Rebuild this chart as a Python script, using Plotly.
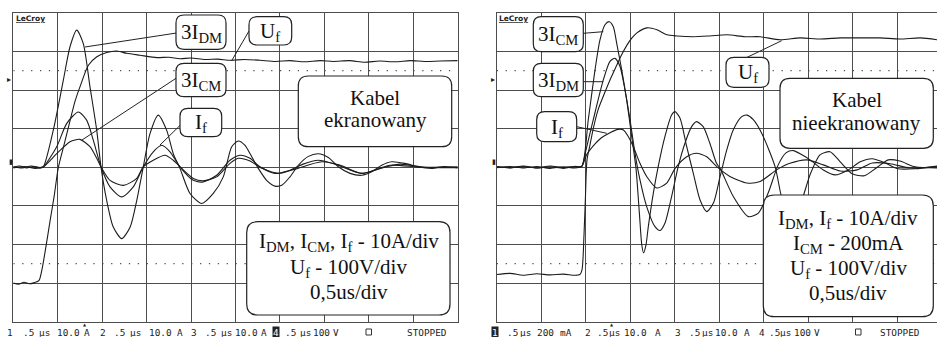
import plotly.graph_objects as go

W, H = 937, 337

# ---------------- data (time in divisions of 0.5 us, amplitude in divisions) ----------------
# Left screen: "Kabel ekranowany"
L_uf_t = [0, 0.12, 0.24, 0.36, 0.48, 0.58, 0.65, 0.74, 0.83, 0.92, 1.01, 1.14, 1.28, 1.39, 1.50, 1.69, 1.88,
          2.10, 2.33, 2.55, 2.85, 3.23, 3.50, 3.75, 4.0, 4.31, 4.6, 4.88, 5.2, 5.55, 5.9, 6.23, 6.55, 6.90,
          7.2, 7.57, 7.9, 8.24, 8.6, 8.93, 9.25, 9.60, 10]
L_uf_y = [-3.0, -3.03, -2.98, -3.02, -2.99, -2.93, -2.62, -2.02, -1.37, -0.75, -0.03, 0.57, 1.22, 1.71, 2.08,
          2.64, 2.86, 2.97, 3.01, 2.95, 2.90, 2.84, 2.85, 2.81, 2.83, 2.79, 2.80, 2.77, 2.79, 2.77, 2.74, 2.76,
          2.73, 2.76, 2.74, 2.76, 2.72, 2.75, 2.73, 2.76, 2.74, 2.75, 2.76]

L_dm_t = [0, 0.15, 0.3, 0.45, 0.6, 0.675, 0.90, 1.125, 1.276, 1.427, 1.575, 1.726, 1.877, 1.973, 2.10, 2.25,
          2.44, 2.63, 2.78, 2.925, 3.076, 3.263, 3.45, 3.60, 3.75, 3.976, 4.24, 4.50, 4.725, 4.915, 5.063,
          5.21, 5.365, 5.513, 5.70, 5.89, 6.04, 6.226, 6.413, 6.64, 6.863, 7.09, 7.313, 7.576, 7.84, 8.065,
          8.29, 8.515, 8.81, 9.11, 9.415, 9.7, 10]
L_dm_y = [0.0, 0.03, -0.02, 0.02, -0.02, 0.01, 0.96, 2.25, 3.12, 3.55, 3.20, 2.08, 0.96, 0.01, -0.85, -1.55,
          -1.85, -1.55, -0.85, 0.01, 0.87, 1.35, 0.96, 0.35, -0.03, -0.68, -0.94, -0.68, -0.25, 0.53, 0.68,
          0.57, 0.27, -0.03, -0.34, -0.49, -0.47, -0.25, 0.05, 0.28, 0.35, 0.25, 0.01, -0.16, -0.21, -0.12,
          0.05, 0.14, 0.10, 0.01, -0.03, 0.02, -0.02]

L_cm_t = [0, 0.2, 0.4, 0.6, 0.675, 0.977, 1.20, 1.463, 1.65, 1.80, 1.973, 2.176, 2.44, 2.70, 2.925, 3.15,
          3.34, 3.526, 3.75, 4.05, 4.275, 4.577, 4.876, 5.10, 5.326, 5.55, 5.89, 6.226, 6.52, 6.863, 7.24,
          7.84, 8.36, 8.70, 9.26, 10]
L_cm_y = [0.02, -0.02, 0.03, -0.01, 0.01, 0.53, 1.13, 1.43, 1.22, 0.70, 0.01, -0.51, -0.77, -0.51, 0.01, 0.40,
          0.57, 0.40, 0.01, -0.34, -0.38, -0.21, 0.18, 0.31, 0.23, 0.01, -0.16, -0.08, 0.08, 0.18, 0.08,
          -0.16, 0.0, 0.08, 0.0, -0.01]

L_if_t = [0, 0.25, 0.5, 0.675, 0.977, 1.276, 1.50, 1.726, 1.877, 1.973, 2.176, 2.48, 2.777, 2.925, 3.15,
          3.413, 3.60, 3.79, 4.05, 4.275, 4.577, 4.876, 5.063, 5.326, 5.60, 5.97, 6.34, 6.94, 7.36, 7.84,
          8.48, 9.15, 10]
L_if_y = [-0.02, 0.02, -0.03, 0.01, 0.35, 0.66, 0.72, 0.53, 0.23, 0.01, -0.34, -0.47, -0.29, 0.01, 0.18,
          0.31, 0.18, -0.03, -0.29, -0.35, -0.25, 0.10, 0.23, 0.16, -0.03, -0.16, -0.05, 0.14, 0.05, -0.16,
          0.05, 0.0, 0.01]

# Right screen: "Kabel nieekranowany"
R_uf_t = [0, 0.3, 0.6, 0.9, 1.2, 1.5, 1.75, 1.87, 1.917, 1.962, 1.996, 2.029, 2.097, 2.164, 2.276, 2.389,
          2.546, 2.681, 2.793, 2.93, 3.04, 3.15, 3.378, 3.60, 3.825, 4.05, 4.41, 4.79, 5.175, 5.58, 5.92,
          6.37, 6.82, 7.27, 7.72, 8.17, 8.62, 9.06, 9.52, 9.9]
R_uf_y = [-2.78, -2.75, -2.80, -2.76, -2.79, -2.77, -2.80, -2.78, -2.66, -1.75, -0.72, 0.19, 0.58, 0.97, 1.48,
          1.82, 2.26, 2.60, 2.88, 3.17, 3.35, 3.48, 3.61, 3.56, 3.43, 3.40, 3.38, 3.40, 3.43, 3.38, 3.38,
          3.30, 3.35, 3.32, 3.35, 3.35, 3.35, 3.32, 3.35, 3.30]

R_cm_t = [0, 0.3, 0.6, 0.9, 1.2, 1.5, 1.75, 1.91, 2.058, 2.209, 2.321, 2.434, 2.53, 2.62, 2.697, 2.809,
          2.921, 3.034, 3.13, 3.206, 3.26, 3.30, 3.355, 3.407, 3.52, 3.63, 3.78, 3.93, 4.006, 4.12, 4.27,
          4.418, 4.57, 4.72, 4.87, 5.02, 5.17, 5.317, 5.506, 5.625, 5.766, 5.955, 6.254, 6.44, 6.636,
          6.816, 7.04, 7.265, 7.49, 7.72, 7.99, 8.26, 8.53, 8.80, 9.06, 9.40, 9.9]
R_cm_y = [0.01, -0.02, 0.02, -0.02, 0.03, -0.01, 0.02, 0.02, 1.23, 2.52, 3.30, 3.69, 3.77, 3.64, 3.21, 2.52,
          1.74, 0.79, -0.03, -1.19, -2.01, -2.22, -2.01, -1.54, -0.67, 0.02, 0.79, 1.35, 1.44, 1.27, 0.53,
          -0.16, -0.85, -1.15, -0.93, -0.24, 0.45, 0.97, 1.31, 1.35, 1.23, 0.88, 0.02, -0.93, -1.24,
          -0.98, -0.20, 0.32, 0.40, 0.14, -0.17, -0.22, -0.02, 0.19, 0.16, 0.01, -0.02]

R_dm_t = [0, 0.3, 0.6, 0.9, 1.2, 1.5, 1.75, 1.91, 2.007, 2.17, 2.396, 2.546, 2.658, 2.771, 2.883, 2.996,
          3.108, 3.22, 3.37, 3.557, 3.67, 3.78, 3.93, 4.08, 4.23, 4.38, 4.49, 4.64, 4.79, 4.94, 5.02,
          5.317, 5.654, 5.88, 6.10, 6.326, 6.50, 6.665, 6.86, 7.04, 7.34, 7.607, 7.90, 8.17, 8.44, 8.73,
          9.02, 9.40, 9.9]
R_dm_y = [-0.01, 0.02, -0.02, 0.02, -0.03, 0.01, -0.02, 0.02, 0.45, 1.23, 2.26, 2.74, 2.82, 2.61, 2.00, 1.23,
          0.36, -0.33, -1.02, -1.54, -1.64, -1.45, -0.76, 0.02, 0.62, 1.05, 1.18, 1.05, 0.62, 0.10, -0.03,
          -0.76, -1.28, -1.19, -0.67, 0.06, 0.37, 0.43, 0.32, 0.19, -0.07, -0.20, -0.07, 0.14, 0.22, 0.11,
          -0.04, -0.04, 0.03]

R_if_t = [0, 0.3, 0.6, 0.9, 1.2, 1.5, 1.75, 1.91, 2.02, 2.17, 2.32, 2.546, 2.726, 2.84, 2.95, 3.07, 3.22,
          3.37, 3.60, 3.82, 4.01, 4.27, 4.49, 4.72, 4.94, 5.24, 5.62, 5.92, 6.29, 6.59, 6.97, 7.34, 7.72,
          8.10, 8.44, 8.84, 9.29, 9.9]
R_if_y = [0.02, -0.01, 0.03, -0.02, 0.01, -0.03, 0.02, 0.02, 0.32, 0.55, 0.73, 0.89, 0.98, 0.97, 0.81, 0.53,
          0.10, -0.24, -0.54, -0.41, -0.03, 0.27, 0.36, 0.27, 0.02, -0.24, -0.41, -0.37, -0.07, 0.10, 0.19,
          0.06, -0.10, -0.07, 0.11, 0.09, -0.02, 0.01]

REF_LEVELS = [2.5, -2.5]          # dotted reference levels (div)
LEFT_STATUS = [("1", 5), (".5", 20.5), ("µs", 36.5), ("10.0", 55), ("A", 81.5),
               ("2", 98), (".5", 111.5), ("µs", 128), ("10.0", 146.5), ("A", 174.5),
               ("3", 189), (".5", 203), ("µs", 219), ("10.0", 233), ("A", 258.5),
               (".5", 283), ("µs", 297.5), ("100", 311), ("V", 330.5), ("STOPPED", 405)]
RIGHT_STATUS = [(".5", 504.5), ("µs", 518), ("200", 535), ("mA", 558),
                ("2", 582.5), (".5", 594.5), ("µs", 606.5), ("10.0", 622), ("A", 652.5),
                ("3", 673), (".5", 687), ("µs", 700), ("10.0", 713), ("A", 742),
                ("4", 756.5), (".5", 767), ("µs", 778), ("100", 792), ("V", 812), ("STOPPED", 878)]

# ---------------- geometry ----------------
def PX(x):
    return x / W

def PY(y):
    return 1 - y / H

TOP, BOT = 12.8, 321.6
CY = (TOP + BOT) / 2
LX0, LX1 = 13.3, 457.7
RX0, DIVW_R = 496.7, 44.5
R_RANGE = (W - RX0) / DIVW_R

GRID = "#4d4d4d"
TRACE = "#1c1c1c"
SERIF = "Liberation Serif, Tinos, Times New Roman, Times, DejaVu Serif, Noto Serif, serif"
MONO = "DejaVu Sans Mono"
SANS = "DejaVu Sans"

fig = go.Figure()

def add(t, y, xa, ya):
    fig.add_trace(go.Scatter(x=t, y=y, mode="lines", xaxis=xa, yaxis=ya,
                             line=dict(color=TRACE, width=1.1, shape="spline", smoothing=0.7),
                             hoverinfo="skip", showlegend=False))

for t, y in [(L_uf_t, L_uf_y), (L_dm_t, L_dm_y), (L_cm_t, L_cm_y), (L_if_t, L_if_y)]:
    add(t, y, "x", "y")
for t, y in [(R_uf_t, R_uf_y), (R_cm_t, R_cm_y), (R_dm_t, R_dm_y), (R_if_t, R_if_y)]:
    add(t, y, "x2", "y2")

ydom = [PY(BOT), PY(TOP)]
base_ax = dict(showgrid=True, gridcolor=GRID, gridwidth=1, showline=True, linecolor=GRID, linewidth=1,
               mirror=True, showticklabels=False, ticks="", zeroline=False, dtick=1, tick0=0, fixedrange=True)

def tick_ax(overlay, pos, ticks, rng):
    return dict(overlaying=overlay, anchor="free", position=pos, ticks=ticks, ticklen=3, tickwidth=1,
                tickcolor=GRID, dtick=0.2, tick0=0, showticklabels=False, showgrid=False, zeroline=False,
                showline=False, range=rng, fixedrange=True)

fig.update_layout(
    width=W, height=H, margin=dict(l=0, r=0, t=0, b=0), paper_bgcolor="white", plot_bgcolor="white",
    font=dict(family=SERIF),
    xaxis=dict(base_ax, domain=[PX(LX0), PX(LX1)], range=[0, 10], anchor="y"),
    yaxis=dict(base_ax, domain=ydom, range=[-4, 4], anchor="x"),
    xaxis2=dict(base_ax, domain=[PX(RX0), 1.0], range=[0, R_RANGE], anchor="y2"),
    yaxis2=dict(base_ax, domain=ydom, range=[-4, 4], anchor="x2"),
    xaxis3=tick_ax("x", PY(CY), "outside", [0, 10]),
    xaxis4=tick_ax("x", PY(CY), "inside", [0, 10]),
    yaxis3=tick_ax("y", PX((LX0 + LX1) / 2), "outside", [-4, 4]),
    yaxis4=tick_ax("y", PX((LX0 + LX1) / 2), "inside", [-4, 4]),
    xaxis5=tick_ax("x2", PY(CY), "outside", [0, R_RANGE]),
    xaxis6=tick_ax("x2", PY(CY), "inside", [0, R_RANGE]),
    yaxis5=tick_ax("y2", PX(RX0 + 5 * DIVW_R), "outside", [-4, 4]),
    yaxis6=tick_ax("y2", PX(RX0 + 5 * DIVW_R), "inside", [-4, 4]),
)

shapes = []
# dotted reference levels
for lv in REF_LEVELS:
    shapes.append(dict(type="line", xref="x", yref="y", x0=0, x1=10, y0=lv, y1=lv, layer="below",
                       line=dict(color="#555", width=1.3, dash="1.3px,7.59px")))
    shapes.append(dict(type="line", xref="x2", yref="y2", x0=0, x1=R_RANGE, y0=lv, y1=lv, layer="below",
                       line=dict(color="#555", width=1.3, dash="1.3px,7.6px")))

# leader lines (pixel coords)
leaders = [((176.5, 33), (85, 47)), ((249, 31), (231.5, 61)), ((176.5, 78), (82, 140)),
           ((181.5, 124), (160, 145)),
           ((583.3, 33.3), (603.3, 31.7)), ((583.3, 81.7), (603.3, 81.7)), ((576.7, 126.7), (606.7, 133.3)),
           ((746.7, 57.5), (781.7, 40.7))]
for (a, b) in leaders:
    shapes.append(dict(type="line", xref="paper", yref="paper", x0=PX(a[0]), y0=PY(a[1]), x1=PX(b[0]),
                       y1=PY(b[1]), layer="above", line=dict(color="#222", width=1)))

def rbox(x0, y0, x1, y1, r):
    pts = [("M", x0 + r, y0), ("L", x1 - r, y0), ("Q", x1, y0, x1, y0 + r), ("L", x1, y1 - r),
           ("Q", x1, y1, x1 - r, y1), ("L", x0 + r, y1), ("Q", x0, y1, x0, y1 - r), ("L", x0, y0 + r),
           ("Q", x0, y0, x0 + r, y0)]
    s = ""
    for p in pts:
        vals = p[1:]
        coords = [f"{PX(vals[i]):.5f},{PY(vals[i + 1]):.5f}" for i in range(0, len(vals), 2)]
        s += p[0] + " " + " ".join(coords) + " "
    return s + "Z"

boxes = [(176, 15, 226, 49.3, 8), (249, 16.7, 291.7, 45, 8), (176, 63.3, 226, 96.7, 8),
         (180, 108.3, 221.7, 136.7, 8), (298.3, 76, 451.7, 146.7, 10), (246.7, 221.7, 450, 315, 11),
         (533.3, 16.7, 583.3, 51.7, 8), (533.3, 63.3, 583.3, 96.7, 8), (536.7, 111.7, 576.7, 141.7, 8),
         (726, 57.3, 769, 87.3, 8), (780, 78.3, 933.3, 148.3, 10), (763.3, 195, 933.3, 316.7, 11)]
for b in boxes:
    shapes.append(dict(type="path", xref="paper", yref="paper", path=rbox(*b), layer="above",
                       fillcolor="white", line=dict(color="#222", width=1.2)))
# small square symbol of the status line
for x0 in (366, 855.5):
    shapes.append(dict(type="rect", xref="paper", yref="paper", x0=PX(x0), x1=PX(x0 + 5.5),
                       y0=PY(335), y1=PY(329), line=dict(color="#333", width=1)))

fig.update_layout(shapes=shapes)

ann = []
def txt(s, x, y, size=21, family=SERIF, xanchor="center", color="#111", **kw):
    ann.append(dict(text=s, x=PX(x), y=PY(y), xref="paper", yref="paper", showarrow=False,
                    xanchor=xanchor, yanchor="middle", font=dict(family=family, size=size, color=color), **kw))

# label boxes
txt("3I<sub>DM</sub>", 201, 33)
txt("U<sub>f</sub>", 270.3, 32)
txt("3I<sub>CM</sub>", 201, 81)
txt("I<sub>f</sub>", 201, 123.5)
txt("Kabel", 375, 98.5)
txt("ekranowany", 375, 120.5)
txt("I<sub>DM</sub>, I<sub>CM</sub>, I<sub>f</sub> - 10A/div", 348.5, 242)
txt("U<sub>f</sub> - 100V/div", 348.5, 267.5)
txt("0,5us/div", 348.5, 291.5)

txt("3I<sub>CM</sub>", 558.3, 35)
txt("3I<sub>DM</sub>", 558.3, 81)
txt("I<sub>f</sub>", 556.7, 127.5)
txt("U<sub>f</sub>", 747.5, 73)
txt("Kabel", 856.7, 100)
txt("nieekranowany", 856.7, 123)
txt("I<sub>DM</sub>, I<sub>f</sub> - 10A/div", 848.3, 219)
txt("I<sub>CM</sub> - 200mA", 848.3, 243.5)
txt("U<sub>f</sub> - 100V/div", 848.3, 268.5)
txt("0,5us/div", 848.3, 292.5)

# scope decorations
for x0 in (13.5, 497):
    txt("<b><u>LeCroy</u></b>", x0, 19, size=7.5, family=SANS, xanchor="left", color="#222")
for x0 in (8.5, 492.5):
    txt("▸", x0, 79, size=8, family=SANS, color="#222")
for x0 in (10.5, 494.5):
    txt("▮", x0, 161.5, size=7, family=SANS, color="#222")

# status line
for s, x0 in LEFT_STATUS + RIGHT_STATUS:
    txt(s, x0, 332.5, size=9.4, family=MONO, xanchor="left", color="#222")
txt("4", 271.5, 332.5, size=9.4, family=MONO, xanchor="left", color="white", bgcolor="#222", borderpad=0)
txt("1", 490.5, 332.5, size=9.4, family=MONO, xanchor="left", color="white", bgcolor="#222", borderpad=0)
txt("▲", 84.5, 324.3, size=4, family=SANS, color="#222")
txt("▲", 612, 324.3, size=4, family=SANS, color="#222")

fig.update_layout(annotations=ann)

fig.write_html("out.html", config={"displayModeBar": False})
